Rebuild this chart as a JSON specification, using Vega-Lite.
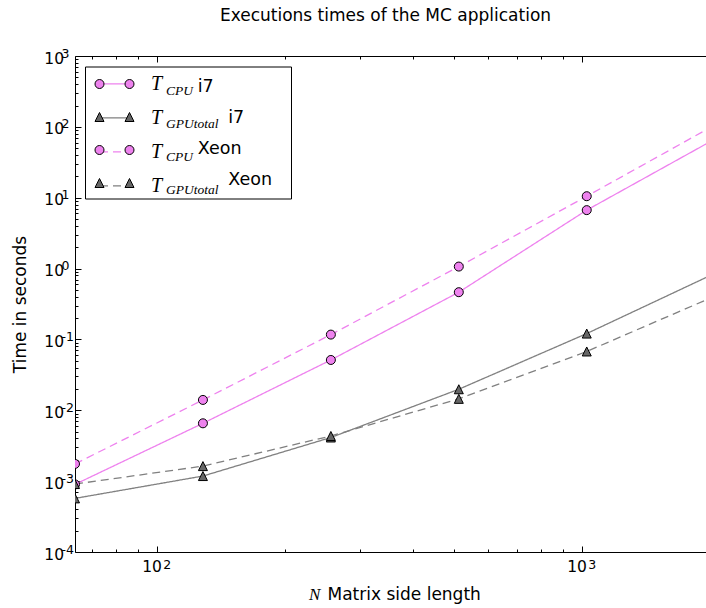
{
  "$schema": "https://vega.github.io/schema/vega-lite/v6.json",
  "width": 631,
  "height": 496,
  "autosize": {"type": "none"},
  "padding": {"left": 75, "top": 56, "right": 0, "bottom": 56},
  "background": "white",
  "config": {
    "view": {"stroke": null},
    "axis": {"grid": false, "domainColor": "black", "domainWidth": 1, "tickColor": "black", "tickWidth": 1, "labelColor": "black", "titleColor": "black", "labelFont": "DejaVu Sans", "titleFont": "DejaVu Sans", "titleFontWeight": "normal", "labelFlush": false, "labelOverlap": false}
  },
  "data": {"values": [
    {"n": 64, "t": 0.00090, "s": "CPU i7"},
    {"n": 128, "t": 0.00655, "s": "CPU i7"},
    {"n": 256, "t": 0.0513, "s": "CPU i7"},
    {"n": 512, "t": 0.464, "s": "CPU i7"},
    {"n": 1024, "t": 6.68, "s": "CPU i7"},
    {"n": 2048, "t": 67, "s": "CPU i7"},
    {"n": 64, "t": 0.000571, "s": "GPU i7"},
    {"n": 128, "t": 0.00118, "s": "GPU i7"},
    {"n": 256, "t": 0.00413, "s": "GPU i7"},
    {"n": 512, "t": 0.0198, "s": "GPU i7"},
    {"n": 1024, "t": 0.121, "s": "GPU i7"},
    {"n": 2048, "t": 0.853, "s": "GPU i7"},
    {"n": 64, "t": 0.00175, "s": "CPU Xeon"},
    {"n": 128, "t": 0.0140, "s": "CPU Xeon"},
    {"n": 256, "t": 0.117, "s": "CPU Xeon"},
    {"n": 512, "t": 1.067, "s": "CPU Xeon"},
    {"n": 1024, "t": 10.5, "s": "CPU Xeon"},
    {"n": 2048, "t": 106, "s": "CPU Xeon"},
    {"n": 64, "t": 0.00091, "s": "GPU Xeon"},
    {"n": 128, "t": 0.00163, "s": "GPU Xeon"},
    {"n": 256, "t": 0.00434, "s": "GPU Xeon"},
    {"n": 512, "t": 0.0145, "s": "GPU Xeon"},
    {"n": 1024, "t": 0.0676, "s": "GPU Xeon"},
    {"n": 2048, "t": 0.407, "s": "GPU Xeon"}
  ]},
  "resolve": {
    "scale": {"shape": "independent", "fill": "independent", "stroke": "independent"},
    "axis": {"x": "independent", "y": "independent"},
    "legend": {"color": "independent", "strokeDash": "independent", "shape": "independent", "fill": "independent", "stroke": "independent"}
  },
  "layer": [
    {
      "mark": {"type": "line", "clip": true, "strokeWidth": 1.3},
      "encoding": {
        "x": {"field": "n", "type": "quantitative", "scale": {"type": "log", "domain": [64, 1954], "nice": false},
          "axis": {"orient": "bottom", "values": [100, 1000], "tickSize": -6, "labelPadding": 25, "labelFontSize": 15.5, "labelAlign": "right", "labelBaseline": "alphabetic", "labelOffset": 4,
            "labelExpr": "'10'",
            "title": "Matrix side length", "titleFontSize": 17, "titleX": 252, "titleY": 47, "titleAlign": "left", "titleBaseline": "alphabetic"}},
        "y": {"field": "t", "type": "quantitative", "scale": {"type": "log", "domain": [0.0001, 1000], "nice": false},
          "axis": {"orient": "left", "values": [0.0001, 0.001, 0.01, 0.1, 1, 10, 100, 1000], "tickSize": -6, "labelPadding": 17.5, "labelFontSize": 15.5, "labelAlign": "right", "labelBaseline": "alphabetic", "labelOffset": 7,
            "labelExpr": "'10'",
            "title": "Time in seconds", "titleFontSize": 17, "titleX": -55, "titleY": 248, "titleAngle": -90, "titleAlign": "center", "titleBaseline": "middle"}},
        "color": {"field": "s", "type": "nominal", "scale": {"domain": ["CPU i7", "GPU i7", "CPU Xeon", "GPU Xeon"], "range": ["#ee82ee", "#808080", "#ee82ee", "#808080"]},
          "legend": {"orient": "none", "legendX": 24, "legendY": 11.9, "title": null, "padding": 0, "symbolType": "M-1,-1M-1,0L1,0M1,1", "symbolSize": 900, "symbolStrokeWidth": 1.3, "rowPadding": -5.5, "labelOffset": 20, "labelFont": "Liberation Serif", "labelFontStyle": "italic", "labelFontSize": 20, "labelColor": "black", "labelExpr": "'T'"}},
        "strokeDash": {"field": "s", "type": "nominal", "scale": {"domain": ["CPU i7", "GPU i7", "CPU Xeon", "GPU Xeon"], "range": [[1, 0], [1, 0], [8, 5], [8, 5]]},
          "legend": {"orient": "none", "legendX": 24, "legendY": 11.9, "title": null, "padding": 0, "symbolType": "M-1,-1M-1,0L1,0M1,1", "symbolSize": 900, "symbolStrokeWidth": 1.3, "rowPadding": -5.5, "labelOffset": 20, "labelFont": "Liberation Serif", "labelFontStyle": "italic", "labelFontSize": 20, "labelColor": "black", "labelExpr": "'T'"}}
      }
    },
    {
      "transform": [{"filter": "datum.n < 2000"}],
      "mark": {"type": "point", "filled": true, "clip": true, "stroke": "black", "strokeWidth": 1, "size": 81, "opacity": 1},
      "encoding": {
        "x": {"field": "n", "type": "quantitative", "axis": {"orient": "top", "values": [100, 1000], "tickSize": -6, "labels": false,
          "title": "Executions times of the MC application", "titleFont": "DejaVu Sans", "titleFontSize": 17, "titleX": 310, "titleY": -36, "titleAlign": "center", "titleBaseline": "alphabetic"}},
        "y": {"field": "t", "type": "quantitative", "axis": {"orient": "left", "values": [0.0002,0.0003,0.0004,0.0005,0.0006,0.0007,0.0008,0.0009,0.002,0.003,0.004,0.005,0.006,0.007,0.008,0.009,0.02,0.03,0.04,0.05,0.06,0.07,0.08,0.09,0.2,0.3,0.4,0.5,0.6,0.7,0.8,0.9,2,3,4,5,6,7,8,9,20,30,40,50,60,70,80,90,200,300,400,500,600,700,800,900], "tickSize": -3, "labels": false, "domain": false, "title": null}},
        "shape": {"field": "s", "type": "nominal", "scale": {"domain": ["CPU i7", "GPU i7", "CPU Xeon", "GPU Xeon"], "range": ["circle", "M0,-1L1,1L-1,1Z", "circle", "M0,-1L1,1L-1,1Z"]}, "legend": null},
        "fill": {"field": "s", "type": "nominal", "scale": {"domain": ["CPU i7", "GPU i7", "CPU Xeon", "GPU Xeon"], "range": ["#ee82ee", "#666666", "#ee82ee", "#666666"]}, "legend": null}
      }
    },
    {
      "mark": {"type": "point", "opacity": 0},
      "encoding": {
        "x": {"field": "n", "type": "quantitative", "axis": {"orient": "bottom", "values": [70, 80, 90, 200, 300, 400, 500, 600, 700, 800, 900], "tickSize": -3, "labels": false, "domain": false,
          "title": "N", "titleFont": "Liberation Serif", "titleFontStyle": "italic", "titleFontSize": 17, "titleX": 233.5, "titleY": 47, "titleAlign": "left", "titleBaseline": "alphabetic"}},
        "y": {"field": "t", "type": "quantitative", "axis": {"orient": "left", "values": [0.0001, 0.001, 0.01, 0.1, 1, 10, 100, 1000], "ticks": false, "domain": false, "title": null, "labelPadding": 14, "labelFontSize": 12.5, "labelAlign": "left", "labelBaseline": "alphabetic", "labelOffset": 1,
          "labelExpr": "['-4','-3','-2','-1','0','1','2','3'][round(log(datum.value)/LN10)+4]"}},
        "fill": {"field": "s", "type": "nominal", "scale": {"domain": ["CPU i7", "GPU i7", "CPU Xeon", "GPU Xeon"], "range": ["#ee82ee", "transparent", "#ee82ee", "transparent"]},
          "legend": {"orient": "none", "legendX": 24, "legendY": 12.5, "title": null, "padding": 0, "symbolType": "M-1,-1M1,1M-0.7,0A0.3,0.3,0,1,1,-1.3,0A0.3,0.3,0,1,1,-0.7,0ZM1.3,0A0.3,0.3,0,1,1,0.7,0A0.3,0.3,0,1,1,1.3,0Z", "symbolSize": 900, "symbolStrokeWidth": 1, "symbolOpacity": 1, "rowPadding": -4.3, "labelOffset": 36, "labelFont": "Liberation Serif", "labelFontStyle": "italic", "labelFontSize": 13.5, "labelBaseline": "top", "labelColor": "black",
            "labelExpr": "test(/CPU/, datum.label) ? 'CPU' : 'GPUtotal'"}},
        "stroke": {"field": "s", "type": "nominal", "scale": {"domain": ["CPU i7", "GPU i7", "CPU Xeon", "GPU Xeon"], "range": ["black", "transparent", "black", "transparent"]},
          "legend": {"orient": "none", "legendX": 24, "legendY": 12.5, "title": null, "padding": 0, "symbolType": "M-1,-1M1,1M-0.7,0A0.3,0.3,0,1,1,-1.3,0A0.3,0.3,0,1,1,-0.7,0ZM1.3,0A0.3,0.3,0,1,1,0.7,0A0.3,0.3,0,1,1,1.3,0Z", "symbolSize": 900, "symbolStrokeWidth": 1, "symbolOpacity": 1, "rowPadding": -4.3, "labelOffset": 36, "labelFont": "Liberation Serif", "labelFontStyle": "italic", "labelFontSize": 13.5, "labelBaseline": "top", "labelColor": "black",
            "labelExpr": "test(/CPU/, datum.label) ? 'CPU' : 'GPUtotal'"}}
      }
    },
    {
      "mark": {"type": "point", "opacity": 0},
      "encoding": {
        "x": {"field": "n", "type": "quantitative", "axis": {"orient": "top", "values": [70, 80, 90, 200, 300, 400, 500, 600, 700, 800, 900], "tickSize": -3, "labels": false, "domain": false, "title": null}},
        "y": {"field": "t", "type": "quantitative", "axis": null},
        "fill": {"field": "s", "type": "nominal", "scale": {"domain": ["CPU i7", "GPU i7", "CPU Xeon", "GPU Xeon"], "range": ["transparent", "#666666", "transparent", "#666666"]},
          "legend": {"orient": "none", "legendX": 24, "legendY": 12.5, "title": null, "padding": 0, "symbolType": "M-1,-1M1,1M-1,-0.3L-0.7,0.3L-1.3,0.3ZM1,-0.3L1.3,0.3L0.7,0.3Z", "symbolSize": 900, "symbolStrokeWidth": 1, "symbolOpacity": 1, "rowPadding": -4.3, "labelOffset": 36, "labelFontSize": 13.5, "labelExpr": "''"}},
        "stroke": {"field": "s", "type": "nominal", "scale": {"domain": ["CPU i7", "GPU i7", "CPU Xeon", "GPU Xeon"], "range": ["transparent", "black", "transparent", "black"]},
          "legend": {"orient": "none", "legendX": 24, "legendY": 12.5, "title": null, "padding": 0, "symbolType": "M-1,-1M1,1M-1,-0.3L-0.7,0.3L-1.3,0.3ZM1,-0.3L1.3,0.3L0.7,0.3Z", "symbolSize": 900, "symbolStrokeWidth": 1, "symbolOpacity": 1, "rowPadding": -4.3, "labelOffset": 36, "labelFontSize": 13.5, "labelExpr": "''"}}
      }
    },
    {
      "mark": {"type": "point", "opacity": 0},
      "encoding": {
        "x": {"field": "n", "type": "quantitative", "axis": {"orient": "bottom", "values": [100, 1000], "ticks": false, "domain": false, "title": null, "labelPadding": 16, "labelFontSize": 12.5, "labelAlign": "left", "labelBaseline": "alphabetic", "labelOffset": 5.5,
          "labelExpr": "['-4','-3','-2','-1','0','1','2','3'][round(log(datum.value)/LN10)+4]"}},
        "y": {"field": "t", "type": "quantitative", "axis": null},
        "shape": {"field": "s", "type": "nominal", "scale": {"domain": ["CPU i7", "GPU i7", "CPU Xeon", "GPU Xeon"], "range": ["circle", "circle", "circle", "circle"]},
          "legend": {"orient": "none", "legendX": 10, "legendY": 10.5, "title": null, "padding": 4, "symbolSize": 900, "symbolOpacity": 0, "rowPadding": 0, "labelOffset": 76.7, "labelFont": "DejaVu Sans", "labelFontSize": 17.5, "labelColor": "black",
            "labelExpr": "test(/CPU/, datum.label) ? (test(/i7/, datum.label) ? 'i7' : 'Xeon') : ''"}}
      }
    },
    {
      "mark": {"type": "point", "opacity": 0},
      "encoding": {
        "x": {"field": "n", "type": "quantitative", "axis": null},
        "y": {"field": "t", "type": "quantitative", "axis": null},
        "shape": {"field": "s", "type": "nominal", "scale": {"domain": ["CPU i7", "GPU i7", "CPU Xeon", "GPU Xeon"], "range": ["circle", "circle", "circle", "circle"]},
          "legend": {"orient": "none", "legendX": 10, "legendY": 10.5, "title": null, "padding": 4, "strokeColor": "black", "symbolSize": 900, "symbolOpacity": 0, "rowPadding": 0, "labelOffset": 107.2, "labelFont": "DejaVu Sans", "labelFontSize": 17.5, "labelColor": "black",
            "labelExpr": "test(/GPU/, datum.label) ? (test(/i7/, datum.label) ? 'i7' : 'Xeon  \u2009\u200b') : ''"}}
      }
    }
  ]
}
